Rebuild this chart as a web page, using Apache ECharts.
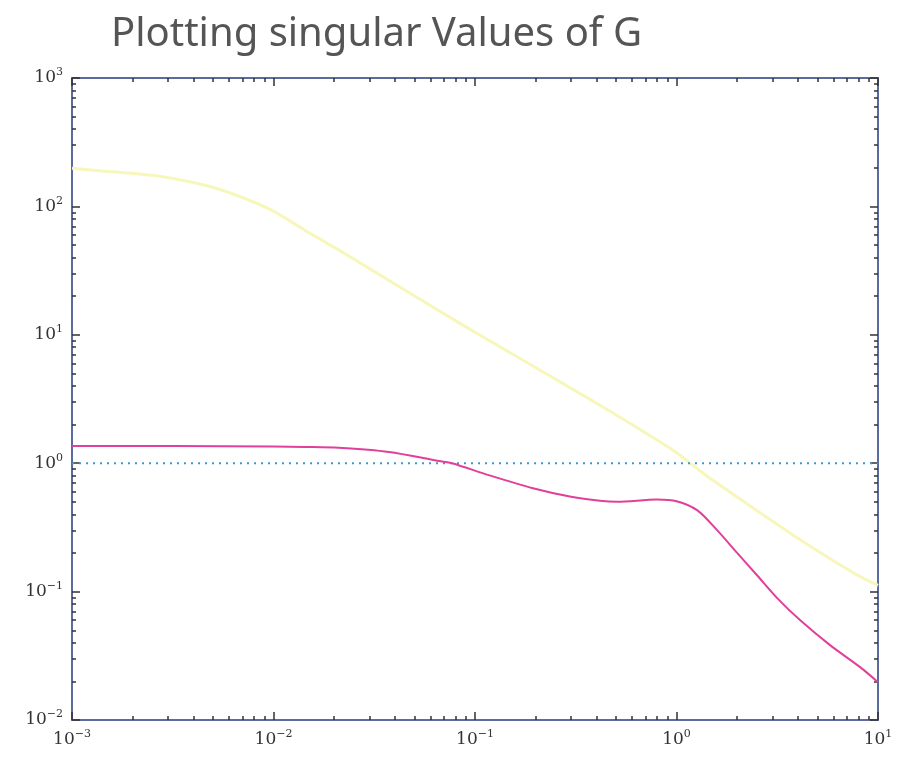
<!DOCTYPE html>
<html lang="en">
<head>
    <meta charset="utf-8">
    <title>Plotting singular values of G</title>
</head>

<body style="margin:0;background:#fff;">
    <div id="main" style="width:898px;height:760px;"></div>

    <script src="https://cdn.jsdelivr.net/npm/echarts@6/dist/echarts.min.js"></script>

    <script type="text/javascript">

        var myChart = echarts.init(document.getElementById('main'));

        // data
        var sigmaMaxX = [0.001, 0.00146, 0.00258, 0.00457, 0.00675, 0.00984, 0.0143, 0.0211, 0.041, 0.0871, 0.1875, 0.403, 0.542, 0.962, 1.416, 2.51, 4.45, 7.87, 10];
        var sigmaMaxY = [198, 188, 174, 146, 120, 93, 65.3, 45.7, 24.3, 11.9, 5.89, 2.92, 2.21, 1.26, 0.794, 0.427, 0.234, 0.135, 0.112];

        var sigmaMinX = [0.001, 0.00316, 0.01, 0.0143, 0.0211, 0.0374, 0.0662, 0.0769, 0.117, 0.194, 0.3, 0.417, 0.507, 0.80, 1.0, 1.265, 1.59, 2.0, 2.51, 3.16, 4.1, 5.78, 8.15, 10];
        var sigmaMinY = [1.36, 1.36, 1.35, 1.34, 1.32, 1.224, 1.04, 1.0, 0.807, 0.638, 0.547, 0.509, 0.500, 0.521, 0.506, 0.431, 0.301, 0.200, 0.134, 0.089, 0.060, 0.0383, 0.0258, 0.0197];

        var unityX = [0.001, 10];
        var unityY = [1, 1];

        var xDecades = [0.001, 0.01, 0.1, 1, 10];
        var yDecades = [0.01, 0.1, 1, 10, 100, 1000];
        var mantissas = [2, 3, 4, 5, 6, 7, 8, 9];

        function minorTicks(decades) {
            var out = [];
            for (var i = 0; i < decades.length - 1; i++) {
                for (var j = 0; j < mantissas.length; j++) {
                    out.push(+(decades[i] * mantissas[j]).toPrecision(6));
                }
            }
            return out;
        }

        function pairs(xs, ys) {
            var out = [];
            for (var i = 0; i < xs.length; i++) out.push([xs[i], ys[i]]);
            return out;
        }

        function powLabel(v) {
            var e = Math.round(Math.log(v) / Math.LN10);
            return '10{s|' + String(e).replace('-', '\u2212') + '}';
        }

        var lineColor = '#5b6b9e';
        var tickColor = '#333';
        var labelStyle = {
            show: true,
            formatter: powLabel,
            color: '#333',
            fontFamily: 'DejaVu Serif',
            fontSize: 17,
            rich: {
                s: { fontSize: 11, fontFamily: 'DejaVu Serif', color: '#333', padding: [0, 0, 11, 0] }
            }
        };

        function makeAxis(pos, decades, minor, withLine, withLabel) {
            return {
                type: 'log',
                logBase: 10,
                position: pos,
                min: decades[0],
                max: decades[decades.length - 1],
                axisLine: { show: withLine, onZero: false, lineStyle: { color: lineColor, width: 2 } },
                axisTick: {
                    show: true,
                    inside: true,
                    length: minor ? 4 : 8,
                    customValues: minor ? minorTicks(decades) : decades,
                    lineStyle: { color: tickColor, width: 1.5 }
                },
                axisLabel: withLabel ? Object.assign({ customValues: decades, margin: 9 }, labelStyle) : { show: false },
                splitLine: { show: false },
                minorTick: { show: false }
            };
        }

        var option = {
            backgroundColor: '#fff',
            animation: false,
            title: {
                show: true,
                text: 'Plotting singular Values of G',
                left: 106,
                top: 10,
                textStyle: {
                    color: '#555',
                    fontFamily: 'Noto Sans',
                    fontSize: 40,
                    fontWeight: 'normal'
                }
            },
            grid: {
                left: 72,
                right: 20,
                top: 78,
                bottom: 40,
                containLabel: false
            },
            xAxis: [
                makeAxis('bottom', xDecades, false, true, true),
                makeAxis('bottom', xDecades, true, false, false),
                makeAxis('top', xDecades, false, true, false),
                makeAxis('top', xDecades, true, false, false)
            ],
            yAxis: [
                makeAxis('left', yDecades, false, true, true),
                makeAxis('left', yDecades, true, false, false),
                makeAxis('right', yDecades, false, true, false),
                makeAxis('right', yDecades, true, false, false)
            ],
            series: [{
                name: 'max',
                type: 'line',
                smooth: 0.3,
                symbol: 'none',
                lineStyle: { color: '#f7f7bc', width: 3 },
                data: pairs(sigmaMaxX, sigmaMaxY)
            }, {
                name: 'unity',
                type: 'line',
                symbol: 'none',
                lineStyle: { color: '#3b9ad4', width: 2, type: [2, 5] },
                data: pairs(unityX, unityY)
            }, {
                name: 'min',
                type: 'line',
                smooth: 0.3,
                symbol: 'none',
                lineStyle: { color: '#e0409a', width: 2 },
                data: pairs(sigmaMinX, sigmaMinY)
            }]
        };
        myChart.setOption(option);
    </script>
</body>
</html>
